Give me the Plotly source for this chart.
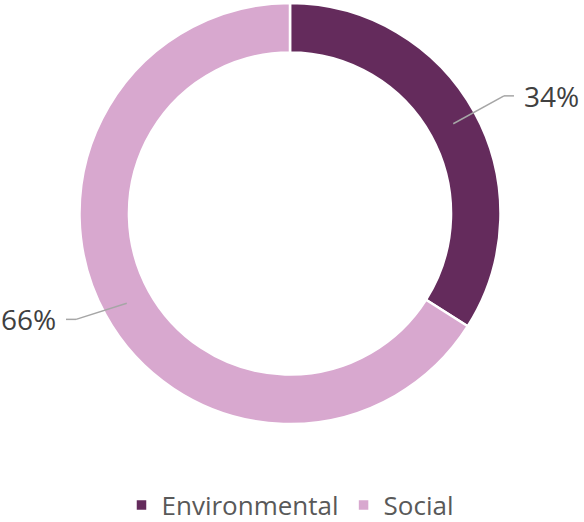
import math
import plotly.graph_objects as go

categories = ["Environmental", "Social"]
values = [34, 66]
colors = ["#642b5c", "#d8a8cf"]

W, H = 584, 522
ML, MR, MT, MB = 0, 4, 3, 98
PW, PH = W - ML - MR, H - MT - MB
cx, cy = ML + PW / 2, MT + PH / 2
R = min(PW, PH) / 2
FONT = "Open Sans, Liberation Sans, sans-serif"


def to_paper(px, py):
    return (px - ML) / PW, (H - MB - py) / PH


fig = go.Figure(go.Pie(
    labels=categories, values=values, hole=0.765, sort=False,
    direction="clockwise", rotation=0,
    marker=dict(colors=colors, line=dict(color="white", width=2.5)),
    textinfo="none", hoverinfo="label+percent",
))

total = sum(values)
cum = 0
shapes, annotations = [], []
for v in values:
    frac = v / total
    mid = (cum + frac / 2) * 2 * math.pi
    cum += frac
    s, c = math.sin(mid), math.cos(mid)
    r1, r2 = R * 0.885, R * 1.16
    x1, y1 = cx + r1 * s, cy - r1 * c
    k = 1.0 if c > 0 else 0.9
    x2, y2 = cx + r2 * s, cy - r2 * c * k
    side = 1 if s >= 0 else -1
    x3 = x2 + side * 10
    for (a, b), (d, e) in [((x1, y1), (x2, y2)), ((x2, y2), (x3, y2))]:
        p0, p1 = to_paper(a, b), to_paper(d, e)
        shapes.append(dict(type="line", xref="paper", yref="paper",
                           x0=p0[0], y0=p0[1], x1=p1[0], y1=p1[1],
                           line=dict(color="#a6a6a6", width=1.5)))
    tx, ty = to_paper(x3 + side * 8, y2)
    annotations.append(dict(
        x=tx, y=ty, xref="paper", yref="paper", showarrow=False,
        text=f"{round(frac * 100)}%", xanchor="left" if side > 0 else "right",
        yanchor="middle", font=dict(size=28, color="#404040", family=FONT),
    ))

lx, ly = to_paper(cx, 505)
fig.update_layout(
    width=W, height=H, margin=dict(l=ML, r=MR, t=MT, b=MB, autoexpand=False),
    paper_bgcolor="white", plot_bgcolor="white",
    shapes=shapes, annotations=annotations,
    showlegend=True,
    legend=dict(orientation="h", x=0.5, xanchor="center", y=ly, yanchor="middle",
                font=dict(size=26, color="#595959", family=FONT),
                traceorder="normal"),
    font=dict(family=FONT),
)

fig.write_html("out.html", config={"displayModeBar": False},
               post_script="document.body.style.margin='0px';")
